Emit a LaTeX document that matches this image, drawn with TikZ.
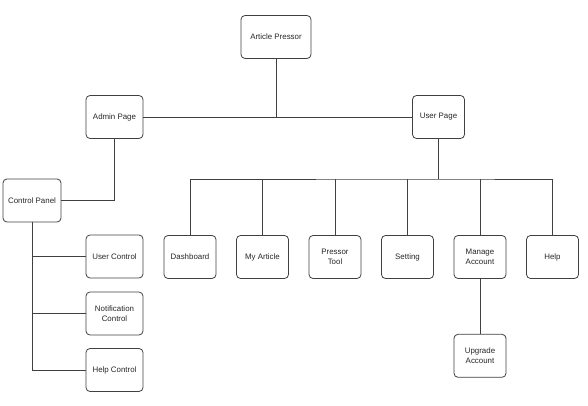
\documentclass[tikz,border=0pt]{standalone}
\usepackage{fontspec}
\setmainfont{Liberation Sans}
\usetikzlibrary{calc}
\usetikzlibrary{positioning}
\usetikzlibrary{chains}
\tikzset{
	page/.style={
		rectangle,
		rounded corners=4pt,
		draw=black!75, line width=0.8pt,
		minimum width=52pt,
		minimum height=43pt,
		inner sep=1pt,
		align=center,
		font=\fontsize{7.9}{9.5}\selectfont,
		text=black!85},
	widepage/.style={page, minimum width=57pt},
	line/.style={draw=black!75, line width=0.8pt},
}

\begin{document}
\begin{tikzpicture}[x=1pt, y=-1pt]
		\useasboundingbox (0,0) rectangle (588,406);
		% top levels
		\node[page, minimum width=70pt] (article) at (276,37) {Article Pressor};
		\node[widepage] (admin) at (114.5,117) {Admin Page};
		\node[page] (user) at (438.5,117) {User Page};
		% admin side
		\node[widepage, minimum width=58pt] (panel) at (32,200.5) {Control Panel};
		\node[widepage] (userctl) at (114.5,256.5) {User Control};
		\node[widepage] (notifctl) at (114.5,313.5) {Notification\\Control};
		\node[widepage] (helpctl) at (114.5,370) {Help Control};
		% user side
		\begin{scope}[start chain=going right, node distance=19.7pt]
		\node[page, on chain] (dash) at (190,257) {Dashboard};
		\node[page, on chain] (myart) {My Article};
		\node[page, on chain] (tool) {Pressor\\Tool};
		\node[page, on chain] (setting) {Setting};
		\node[page, on chain] (manage) {Manage\\Account};
		\node[page, on chain] (help) {Help};
		\end{scope}
		\node[page, below=55pt of manage] (upgrade) {Upgrade\\Account};
		% connectors
		\path[line] (admin) -- (user);
		\path[line] (article.south) -- (article.south |- admin);
		\path[line] (panel.east) -| (admin.south);
		\path[line] (panel.south) |- (helpctl.west);
		\foreach \n in {userctl,notifctl}
			\path[line] (\n.west) -- (\n.west -| panel.south);
		\coordinate (bus) at (438.5,179);
		\path[line] (user.south) -- (bus);
		\path[line] (dash.north) |- (bus) -| (help.north);
		\foreach \n in {myart,tool,setting,manage}
			\path[line] (\n.north) -- (\n.north |- bus);
		\path[line] (manage.south) -- (upgrade.north);
\end{tikzpicture}
\end{document}
